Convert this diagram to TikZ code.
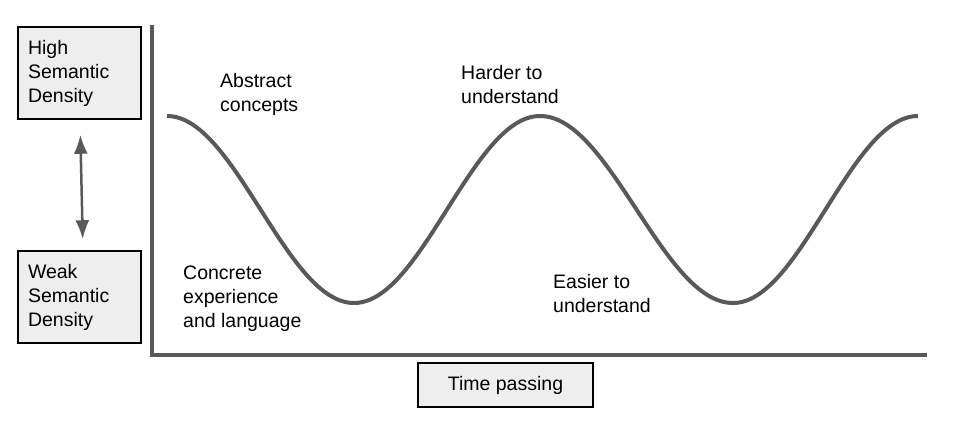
\documentclass[tikz,border=0pt]{standalone}
\usepackage{fontspec}
\setmainfont{Liberation Sans}
\usetikzlibrary{arrows.meta}
\definecolor{linegray}{HTML}{595959}
\definecolor{boxgray}{HTML}{EEEEEE}

\begin{document}
\begin{tikzpicture}[x=1pt, y=-1pt,
  every node/.style={font=\fontsize{19.5}{24}\selectfont},
  labelbox/.style={draw=black, line width=1.5pt, fill=boxgray, minimum width=123pt, minimum height=92pt, text width=103pt, inner xsep=10pt, align=left},
  timebox/.style={draw=black, line width=1.5pt, fill=boxgray, minimum width=175pt, minimum height=44pt},
  note/.style={anchor=north west, inner sep=0pt, align=left},
  axis/.style={draw=linegray, line width=3.5pt},
  wave/.style={draw=linegray, line width=4pt},
  dblarrow/.style={draw=linegray, line width=2.5pt, {Latex[length=19pt,width=14pt]}-{Latex[length=19pt,width=14pt]}}]

\useasboundingbox (0,0) rectangle (960,434);

% density boxes
\node[labelbox] (high) at (79.5,73) {High\\Semantic\\Density};
\node[labelbox] (weak) at (79.5,297) {Weak\\Semantic\\Density};
\draw[dblarrow, shorten <=15pt, shorten >=11pt] ([xshift=0.5pt]high.south) -- ([xshift=3.5pt]weak.north);

% axes
\coordinate (top) at (152,25);
\coordinate (origin) at (152,355);
\coordinate (right) at (927,355);
\draw[axis] (top) -- (origin) -- (right);
\node[timebox] (time) at (505.5,385) {Time passing};

% curve
\draw[wave] (167,116) cos (260.5,209.5) sin (354,303) cos (447,209.5) sin (540,116)
  cos (636.5,209.5) sin (733,303) cos (825.5,209.5) sin (918,116);

% labels
\node[note] (abstract) at (220,73) {Abstract\\concepts};
\node[note] (harder) at (461,65) {Harder to\\understand};
\node[note] (concrete) at (183,266) {Concrete\\experience\\and language};
\node[note] (easier) at (553,274) {Easier to\\understand};
\end{tikzpicture}
\end{document}
